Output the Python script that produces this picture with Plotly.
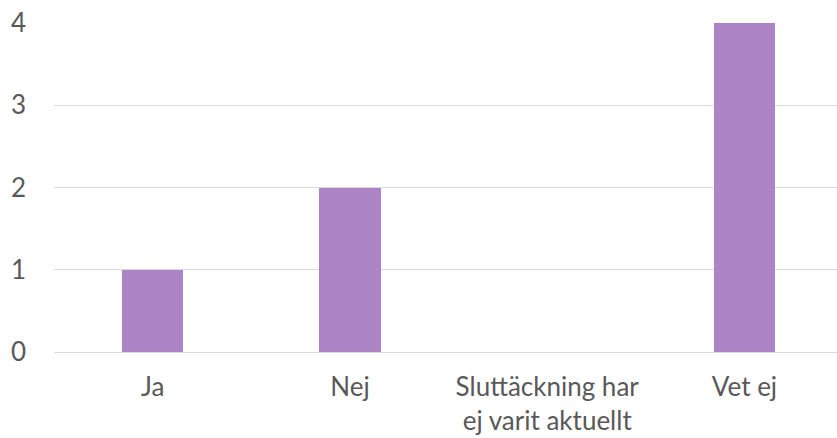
import plotly.graph_objects as go

categories = ["Ja", "Nej", "Sluttäckning har<br>ej varit aktuellt", "Vet ej"]
values = [1, 2, 0, 4]
y_ticks = [0, 1, 2, 3, 4]

fig = go.Figure()
fig.add_trace(go.Bar(
    x=categories, y=values,
    marker=dict(color="#AD84C6", line=dict(width=0)),
    width=0.3125,
))
fig.update_layout(
    width=837, height=438,
    margin=dict(l=53.5, r=0, t=23, b=86.3, autoexpand=False),
    paper_bgcolor="white", plot_bgcolor="white",
    font=dict(family="Lato", size=26, color="#595959"),
    showlegend=False,
    bargap=0,
)
fig.update_xaxes(
    range=[-0.5, 3.469], showgrid=False, showline=False, ticks="",
    tickfont=dict(size=26, color="#595959"), ticklabelstandoff=17,
)
fig.update_yaxes(
    range=[0, 4], tickvals=y_ticks, showgrid=True, gridcolor="#D9D9D9", gridwidth=1.3,
    zeroline=True, zerolinecolor="#D9D9D9", zerolinewidth=1.3, showline=False, ticks="",
    tickfont=dict(size=26, color="#595959"), ticklabelstandoff=27,
)
fig.write_html(
    "out.html",
    config={"displayModeBar": False},
    post_script="document.body.style.margin='0';document.body.style.overflow='hidden';",
)
